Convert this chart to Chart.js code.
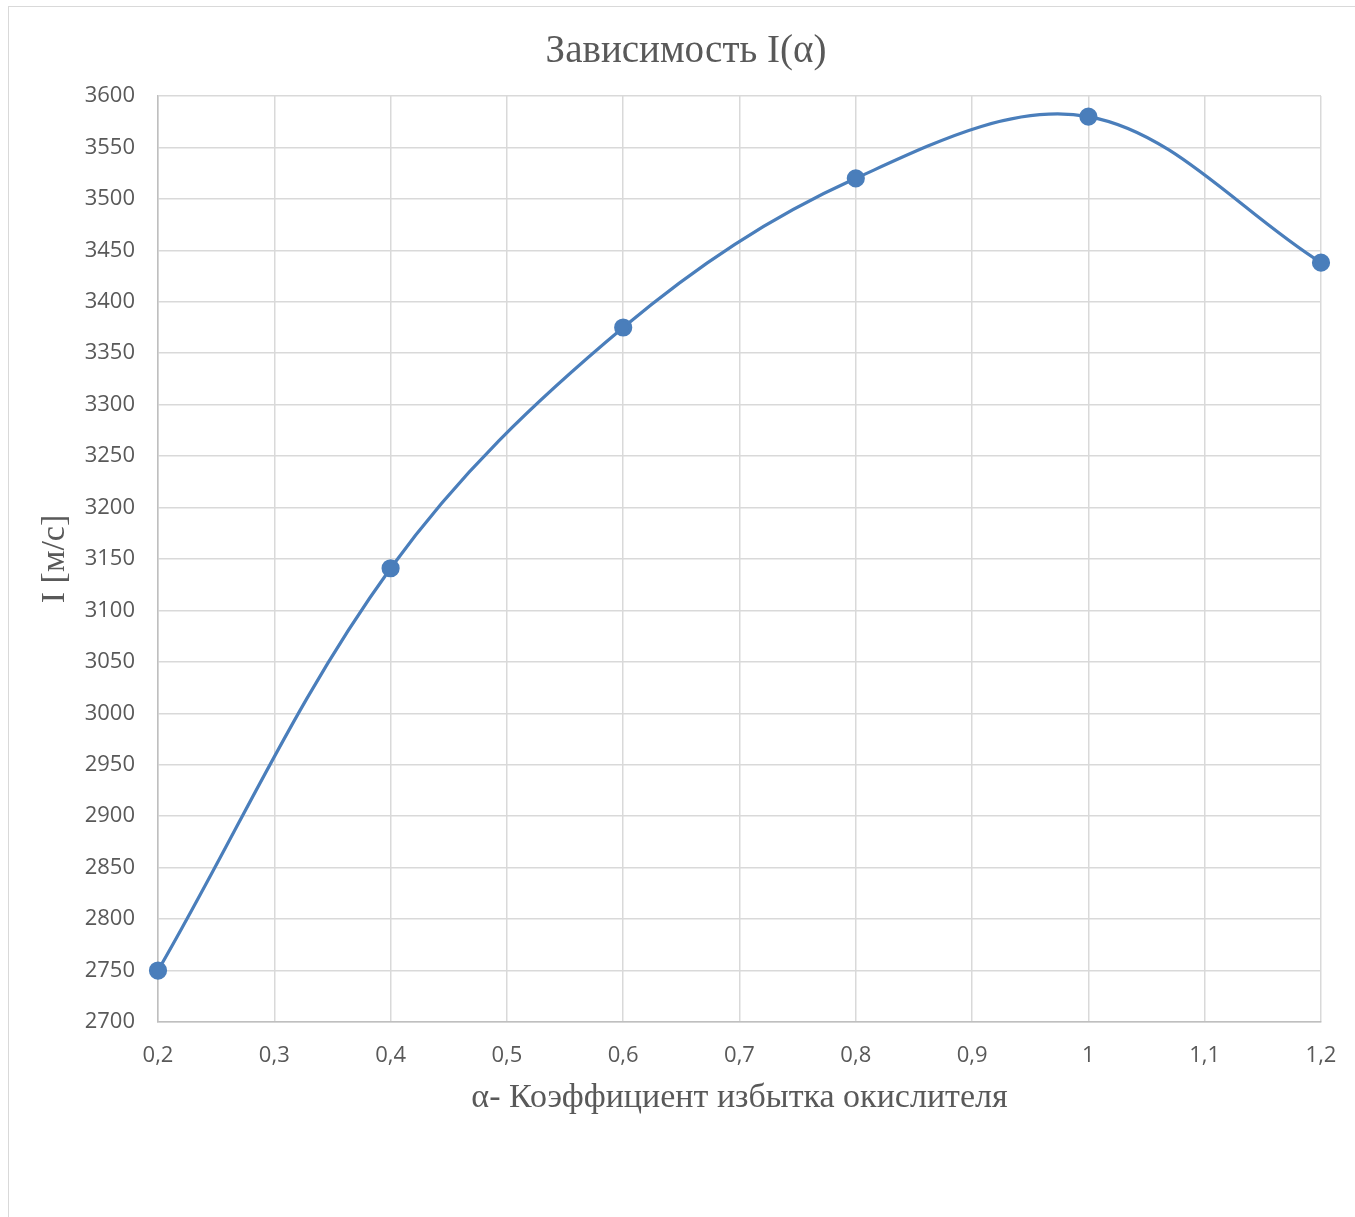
<!DOCTYPE html>
<html>
<head>
<meta charset="utf-8">
<script src="https://cdn.jsdelivr.net/npm/chart.js@4.4.1/dist/chart.umd.min.js"></script>
<style>
  html, body { margin: 0; padding: 0; background: #fff; overflow: hidden; }
  #frame { position: absolute; left: 8px; top: 6px; width: 2000px; height: 2000px; border: 1px solid #D9D9D9; box-sizing: border-box; }
  #wrap { position: absolute; left: 0; top: 0; width: 1355px; height: 1217px; }
</style>
</head>
<body>
<div id="frame"></div>
<div id="wrap"><canvas id="c" width="1355" height="1217"></canvas></div>
<script>
const chartTitle = 'Зависимость I(α)';
const xAxisTitle = 'α- Коэффициент избытка окислителя';
const yAxisTitle = 'I [м/с]';
const alpha = [0.2, 0.4, 0.6, 0.8, 1.0, 1.2];
const impulse = [2750, 3141, 3375, 3520, 3580, 3438];
const xTickLabels = ['0,2', '0,3', '0,4', '0,5', '0,6', '0,7', '0,8', '0,9', '1', '1,1', '1,2'];
const yMin = 2700, yMax = 3600, yStep = 50;
const xMin = 0.2, xMax = 1.2, xStep = 0.1;

const points = alpha.map((a, i) => ({ x: a, y: impulse[i] }));
const gray = '#595959';
const tickFont = { family: '"Open Sans", "Liberation Sans", sans-serif', size: 22 };
const serif = '"Liberation Serif", "DejaVu Serif", serif';

new Chart(document.getElementById('c'), {
  type: 'scatter',
  data: {
    datasets: [{
      data: points,
      showLine: true,
      borderColor: '#4A7EBB',
      backgroundColor: '#4A7EBB',
      borderWidth: 3.2,
      pointRadius: 7.5,
      pointHoverRadius: 7.5,
      tension: 0.35,
      clip: false
    }]
  },
  options: {
    responsive: false,
    animation: false,
    events: [],
    layout: { padding: { left: 17, right: 0, top: 0, bottom: 99 } },
    plugins: {
      legend: { display: false },
      tooltip: { enabled: false },
      title: {
        display: true,
        text: chartTitle,
        color: gray,
        font: { family: serif, size: 39, weight: 'normal' },
        padding: { top: 28.6, bottom: 20.6 }
      }
    },
    scales: {
      x: {
        type: 'linear',
        min: xMin, max: xMax,
        afterFit: s => { s.height = 96; s.paddingRight = 34; s.paddingLeft = 0; },
        border: { color: '#BFBFBF', width: 1.5 },
        grid: { color: '#D9D9D9', lineWidth: 1.5, drawTicks: false },
        ticks: {
          stepSize: xStep,
          color: gray,
          font: tickFont,
          padding: 21,
          maxRotation: 0,
          autoSkip: false,
          callback: (v, i) => xTickLabels[i]
        },
        title: {
          display: true,
          text: xAxisTitle,
          color: gray,
          font: { family: serif, size: 34 },
          padding: { top: 0, bottom: 0 }
        }
      },
      y: {
        type: 'linear',
        min: yMin, max: yMax,
        afterFit: s => { s.width = 141; },
        border: { color: '#BFBFBF', width: 1.5 },
        grid: { color: '#D9D9D9', lineWidth: 1.5, drawTicks: false },
        ticks: {
          stepSize: yStep,
          color: gray,
          font: tickFont,
          padding: 23,
          autoSkip: false,
          callback: v => String(v)
        },
        title: {
          display: true,
          text: yAxisTitle,
          color: gray,
          font: { family: serif, size: 34 },
          padding: { top: 17.6, bottom: 0 }
        }
      }
    }
  }
});
</script>
</body>
</html>
